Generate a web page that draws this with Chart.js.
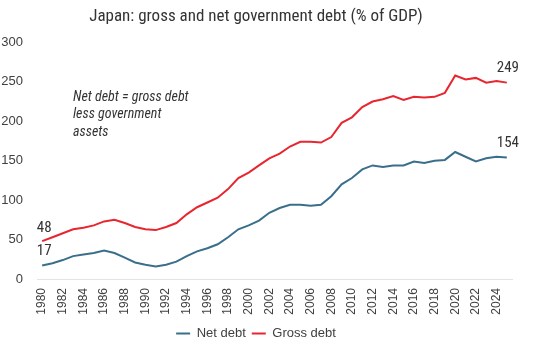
<!DOCTYPE html>
<html>
<head>
<meta charset="utf-8">
<script src="https://cdn.jsdelivr.net/npm/chart.js@4/dist/chart.umd.min.js"></script>
<style>
html,body{margin:0;padding:0;background:#fff;}
#wrap{position:relative;width:540px;height:351px;}
</style>
</head>
<body>
<div id="wrap"><canvas id="c" width="540" height="351"></canvas></div>
<script>
const years = [];
for (let y = 1980; y <= 2025; y++) years.push(String(y));
const netDebt = [17,20,24,29,31,33,36,33,27,21,18,16,18,22,29,35,39,44,53,63,68,74,84,90,94,94,93,94,105,120,128,139,144,142,144,144,149,147,150,151,161,155,149,153,155,154];
const grossDebt = [48,53,58,63,65,68,73,75,71,66,63,62,66,71,82,91,97,103,114,128,135,144,153,159,168,174,174,173,180,198,205,218,225,228,232,227,231,230,231,236,258,253,255,249,251,249];
const yTicks = [0,50,100,150,200,250,300];
const titleText = 'Japan: gross and net government debt (% of GDP)';
const noteLines = ['Net debt = gross debt', 'less government', 'assets'];

const NARROW = '"Liberation Sans Narrow", "Roboto Condensed", "Open Sans", sans-serif';
const BLUE = '#3a6f8c', RED = '#e8262f';

const labelPlugin = {
  id: 'labels',
  afterDatasetsDraw(chart) {
    const ctx = chart.ctx, x = chart.scales.x, y = chart.scales.y;
    ctx.save();
    ctx.fillStyle = '#333';
    ctx.font = '15px ' + NARROW;
    ctx.textAlign = 'center';
    ctx.textBaseline = 'middle';
    const last = years.length - 1;
    ctx.fillText(String(grossDebt[0]), x.getPixelForValue(0) + 2, y.getPixelForValue(grossDebt[0]) - 13);
    ctx.fillText(String(netDebt[0]), x.getPixelForValue(0) + 2, y.getPixelForValue(netDebt[0]) - 14);
    ctx.fillText(String(grossDebt[last]), x.getPixelForValue(last) + 1, y.getPixelForValue(grossDebt[last]) - 14);
    ctx.fillText(String(netDebt[last]), x.getPixelForValue(last) + 1, y.getPixelForValue(netDebt[last]) - 14);
    ctx.font = 'italic 14px ' + NARROW;
    ctx.fillStyle = '#333';
    ctx.textAlign = 'left';
    noteLines.forEach((t, i) => ctx.fillText(t, 73, 97 + i * 17.5));
    ctx.restore();
  }
};

new Chart(document.getElementById('c'), {
  type: 'line',
  data: {
    labels: years,
    datasets: [
      { label: 'Net debt', data: netDebt, borderColor: BLUE, backgroundColor: BLUE, borderWidth: 2, pointRadius: 0, tension: 0 },
      { label: 'Gross debt', data: grossDebt, borderColor: RED, backgroundColor: RED, borderWidth: 2, pointRadius: 0, tension: 0 }
    ]
  },
  options: {
    responsive: false,
    animation: false,
    layout: { padding: { left: 0, right: 28, top: 0, bottom: 1 } },
    plugins: {
      title: {
        display: true, text: titleText, color: '#333',
        font: { family: NARROW, size: 17, weight: 'normal' },
        padding: { top: 7, bottom: 15 }
      },
      legend: {
        position: 'bottom',
        labels: {
          usePointStyle: true, pointStyle: 'line', pointStyleWidth: 14,
          color: '#404040', font: { family: '"Liberation Sans", Arial, sans-serif', size: 13 },
          padding: 6
        }
      },
      tooltip: { enabled: false }
    },
    scales: {
      x: {
        offset: true,
        grid: { display: false, drawTicks: false },
        border: { display: true, color: '#e3e3e3', width: 1 },
        ticks: {
          autoSkip: false, maxRotation: 90, minRotation: 90, padding: 9,
          color: '#404040', font: { family: '"Liberation Sans", Arial, sans-serif', size: 12 },
          callback: function(v, i) { return i % 2 === 0 ? years[i] : null; }
        },
        afterFit(s) { s.height = 42; }
      },
      y: {
        min: 0, max: 300,
        afterBuildTicks(s) { s.ticks = yTicks.map(v => ({ value: v })); },
        grid: { display: false, drawTicks: false },
        border: { display: false },
        ticks: { padding: 14, color: '#404040', font: { family: '"Liberation Sans", Arial, sans-serif', size: 13 } },
        afterFit(s) { s.width = 37; }
      }
    }
  },
  plugins: [labelPlugin]
});
</script>
</body>
</html>
